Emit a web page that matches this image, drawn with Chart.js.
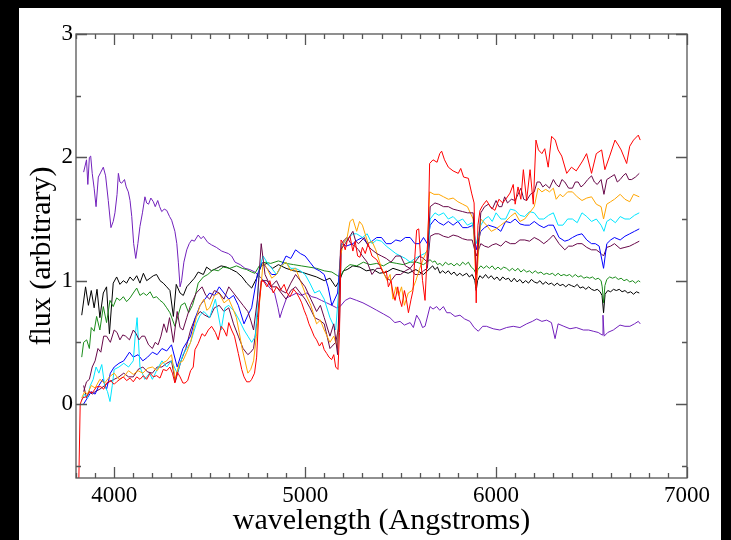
<!DOCTYPE html>
<html lang="en">
<head>
  <meta charset="UTF-8">
  <title>Spectra – flux vs wavelength</title>
  <script src="https://cdn.jsdelivr.net/npm/chart.js"></script>
  <style>
    * { margin:0; padding:0; box-sizing:border-box; }
    html,body { width:731px; height:540px; overflow:hidden; background:#000; }
    #sheet { position:absolute; left:19px; top:8px; width:702px; height:532px; background:#fff; }
    #sheet canvas { display:block; }
  </style>
</head>
<body>
  <div id="sheet"><canvas id="spec" width="702" height="532"></canvas></div>

  <script>
    // axis text
    const xTitle = 'wavelength (Angstroms)';
    const yTitle = 'flux (arbitrary)';
    const xTickVals = [4000, 5000, 6000, 7000];
    const yTickVals = [0, 1, 2, 3];

    // red spectrum
    const redWl = [
      3815, 3822, 3835, 3856, 3870, 3885, 3908, 3930, 3945, 3960,
      3980, 4000, 4013, 4030, 4048, 4065, 4083, 4100, 4118, 4135,
      4153, 4170, 4188, 4205, 4222, 4240, 4257, 4275, 4292, 4305,
      4318, 4330, 4345, 4360, 4371, 4385, 4400, 4414, 4423, 4440,
      4460, 4475, 4493, 4510, 4530, 4545, 4560, 4575, 4589, 4600,
      4615, 4630, 4650, 4668, 4680, 4694, 4710, 4720, 4735, 4746,
      4760, 4772, 4785, 4800, 4815, 4833, 4850, 4870, 4890, 4905,
      4921, 4940, 4955, 4970, 4982, 4995, 5008, 5020, 5034, 5047,
      5060, 5075, 5088, 5100, 5113, 5125, 5139, 5150, 5160, 5172,
      5180, 5188, 5200, 5210, 5220, 5235, 5250, 5262, 5275, 5287,
      5300, 5315, 5330, 5350, 5375, 5392, 5410, 5425, 5436, 5450,
      5460, 5471, 5485, 5495, 5506, 5520, 5530, 5541, 5555, 5565,
      5575, 5584, 5595, 5605, 5615, 5628, 5638, 5646, 5652, 5670,
      5691, 5705, 5715, 5730, 5750, 5775, 5802, 5815, 5830, 5855,
      5872, 5885, 5896, 5905, 5916, 5930, 5950, 5970, 5994, 6015,
      6035, 6055, 6073, 6090, 6100, 6115, 6130, 6143, 6160, 6178,
      6195, 6209, 6222, 6240, 6255, 6273, 6291, 6310, 6325, 6344,
      6370, 6395, 6420, 6453, 6474, 6500, 6525, 6553, 6570, 6595,
      6623, 6640, 6655, 6684, 6700, 6720, 6745, 6755
    ];
    const redFlux = [
      -0.6, 0.0, 0.05, 0.06, 0.10, 0.09, 0.14, 0.14, 0.12, 0.17,
      0.19, 0.16, 0.18, 0.20, 0.22, 0.19, 0.21, 0.18, 0.22, 0.20,
      0.23, 0.20, 0.25, 0.22, 0.23, 0.21, 0.28, 0.27, 0.30, 0.25,
      0.17, 0.26, 0.22, 0.17, 0.17, 0.19, 0.27, 0.30, 0.44, 0.49,
      0.57, 0.55, 0.60, 0.63, 0.58, 0.52, 0.63, 0.60, 0.55, 0.66,
      0.60, 0.55, 0.41, 0.28, 0.22, 0.18, 0.18, 0.20, 0.25, 0.38,
      0.82, 1.00, 0.99, 0.95, 1.00, 0.90, 0.95, 0.92, 0.97, 0.90,
      0.87, 0.93, 0.90, 0.86, 0.82, 0.76, 0.71, 0.65, 0.60, 0.55,
      0.52, 0.47, 0.50, 0.44, 0.41, 0.38, 0.36, 0.40, 0.30, 0.28,
      0.58, 1.33, 1.30, 1.25, 1.32, 1.36, 1.24, 1.32, 1.20, 1.19,
      1.27, 1.22, 1.30, 1.20, 1.17, 1.12, 1.06, 1.08, 0.95, 1.00,
      0.90, 0.84, 0.95, 0.85, 0.79, 0.92, 0.85, 0.74, 0.85, 0.92,
      1.20, 1.41, 1.42, 1.18, 1.00, 0.84, 1.18, 1.50, 1.95, 1.98,
      1.96, 2.03, 2.05, 1.98, 1.92, 1.89, 1.87, 1.91, 1.84, 1.83,
      1.71, 1.63, 0.82, 1.45, 1.57, 1.61, 1.65, 1.60, 1.57, 1.66,
      1.63, 1.67, 1.71, 1.78, 1.62, 1.76, 1.66, 1.90, 1.65, 1.90,
      1.62, 2.14, 2.06, 2.03, 2.07, 1.92, 2.17, 2.14, 2.06, 2.01,
      1.87, 1.92, 1.89, 1.97, 2.03, 1.87, 2.03, 2.06, 1.90, 2.01,
      2.14, 2.10, 2.06, 1.95, 2.09, 2.14, 2.18, 2.14
    ];

    // maroon spectrum (upper one at the red end)
    const maroonAWl = [
      3840, 3855, 3870, 3885, 3900, 3915, 3930, 3945, 3960, 3980,
      4000, 4015, 4030, 4045, 4060, 4080, 4100, 4115, 4130, 4145,
      4160, 4180, 4200, 4215, 4230, 4245, 4260, 4275, 4290, 4310,
      4330, 4345, 4360, 4380, 4400, 4430, 4460, 4480, 4500, 4525,
      4550, 4575, 4600, 4625, 4650, 4675, 4700, 4715, 4730, 4750,
      4770, 4790, 4820, 4850, 4875, 4900, 4925, 4950, 4975, 5000,
      5030, 5060, 5080, 5100, 5130, 5150, 5170, 5185, 5200, 5210,
      5230, 5250, 5265, 5280, 5310, 5330, 5350, 5375, 5400, 5425,
      5450, 5475, 5500, 5525, 5550, 5575, 5600, 5620, 5640, 5655,
      5680, 5700, 5725, 5750, 5775, 5800, 5825, 5850, 5880, 5896,
      5920, 5940, 5960, 5980, 6000, 6015, 6030, 6045, 6060, 6080,
      6100, 6115, 6130, 6145, 6160, 6180, 6200, 6215, 6230, 6245,
      6260, 6280, 6300, 6315, 6330, 6345, 6360, 6380, 6400, 6415,
      6430, 6445, 6460, 6480, 6500, 6515, 6530, 6550, 6565, 6580,
      6600, 6620, 6635, 6650, 6665, 6680, 6695, 6710, 6730, 6750
    ];
    const maroonAFlux = [
      0.10, 0.18, 0.20, 0.30, 0.35, 0.45, 0.42, 0.55, 0.55, 0.50,
      0.60, 0.58, 0.52, 0.56, 0.55, 0.52, 0.60, 0.57, 0.52, 0.55,
      0.55, 0.48, 0.45, 0.50, 0.48, 0.55, 0.65, 0.58, 0.70, 0.50,
      0.75, 0.62, 0.60, 0.70, 0.80, 0.90, 0.95, 0.88, 0.85, 0.92,
      0.90, 0.85, 0.95, 0.90, 0.85, 0.80, 0.75, 0.68, 0.60, 0.85,
      1.30, 1.05, 0.95, 1.00, 0.92, 0.90, 0.98, 1.05, 1.00, 0.95,
      0.85, 0.75, 0.80, 0.70, 0.55, 0.65, 0.40, 1.25, 1.28, 1.30,
      1.35, 1.40, 1.32, 1.30, 1.35, 1.28, 1.25, 1.22, 1.20, 1.18,
      1.15, 1.20, 1.20, 1.12, 1.10, 1.15, 1.20, 1.18, 1.15, 1.60,
      1.63, 1.62, 1.60, 1.60, 1.58, 1.57, 1.56, 1.55, 1.55, 1.05,
      1.55, 1.60, 1.62, 1.58, 1.65, 1.60, 1.60, 1.68, 1.63, 1.66,
      1.65, 1.70, 1.75, 1.66, 1.65, 1.70, 1.72, 1.80, 1.80, 1.76,
      1.78, 1.75, 1.82, 1.78, 1.76, 1.82, 1.80, 1.75, 1.75, 1.80,
      1.80, 1.76, 1.78, 1.82, 1.85, 1.80, 1.78, 1.82, 1.70, 1.82,
      1.84, 1.86, 1.80, 1.82, 1.85, 1.87, 1.82, 1.82, 1.84, 1.87
    ];

    // orange spectrum
    const orangeWl = [
      3830, 3845, 3860, 3880, 3900, 3925, 3950, 3975, 4000, 4025,
      4050, 4075, 4100, 4125, 4150, 4175, 4200, 4225, 4250, 4275,
      4300, 4320, 4340, 4360, 4380, 4400, 4415, 4430, 4450, 4470,
      4485, 4500, 4525, 4550, 4575, 4600, 4620, 4640, 4655, 4670,
      4685, 4700, 4715, 4730, 4745, 4760, 4780, 4800, 4825, 4850,
      4875, 4900, 4925, 4950, 4975, 5000, 5030, 5060, 5080, 5100,
      5130, 5150, 5170, 5185, 5200, 5220, 5235, 5250, 5270, 5285,
      5300, 5330, 5350, 5370, 5400, 5430, 5445, 5460, 5475, 5490,
      5505, 5520, 5540, 5560, 5580, 5600, 5620, 5640, 5652, 5675,
      5700, 5725, 5750, 5775, 5800, 5825, 5850, 5880, 5896, 5920,
      5950, 5975, 6000, 6025, 6050, 6075, 6100, 6125, 6150, 6175,
      6200, 6220, 6240, 6260, 6280, 6300, 6315, 6335, 6350, 6375,
      6400, 6425, 6450, 6475, 6500, 6525, 6550, 6563, 6580, 6600,
      6620, 6650, 6675, 6700, 6720, 6750
    ];
    const orangeFlux = [
      0.05, 0.10, 0.08, 0.15, 0.13, 0.20, 0.17, 0.22, 0.25, 0.20,
      0.22, 0.27, 0.24, 0.27, 0.25, 0.29, 0.30, 0.27, 0.33, 0.35,
      0.40, 0.20, 0.33, 0.35, 0.42, 0.50, 0.60, 0.70, 0.80, 0.85,
      0.76, 0.78, 0.88, 0.90, 0.82, 0.85, 0.78, 0.70, 0.58, 0.45,
      0.35, 0.25, 0.28, 0.35, 0.55, 0.80, 1.15, 1.10, 1.02, 1.05,
      1.12, 1.15, 1.08, 1.10, 1.00, 0.90, 0.80, 0.65, 0.68, 0.60,
      0.50, 0.55, 0.45, 1.20, 1.30, 1.35, 1.48, 1.50, 1.40, 1.48,
      1.45, 1.30, 1.32, 1.25, 1.10, 1.00, 1.05, 0.85, 0.95, 0.88,
      0.95, 0.80, 0.90, 0.92, 1.00, 1.10, 1.18, 1.25, 1.72, 1.70,
      1.70, 1.68, 1.66, 1.67, 1.64, 1.62, 1.60, 1.50, 0.95, 1.50,
      1.45, 1.40, 1.42, 1.45, 1.48, 1.52, 1.55, 1.48, 1.50, 1.55,
      1.60, 1.75, 1.72, 1.74, 1.72, 1.75, 1.66, 1.70, 1.68, 1.72,
      1.72, 1.68, 1.65, 1.67, 1.68, 1.62, 1.60, 1.50, 1.62, 1.64,
      1.66, 1.70, 1.66, 1.64, 1.70, 1.68
    ];

    // cyan spectrum
    const cyanWl = [
      3830, 3845, 3860, 3875, 3890, 3905, 3920, 3935, 3950, 3965,
      3978, 3990, 4000, 4025, 4050, 4075, 4100, 4110, 4120, 4135,
      4160, 4185, 4200, 4225, 4250, 4275, 4300, 4330, 4360, 4380,
      4400, 4430, 4450, 4470, 4500, 4530, 4560, 4580, 4600, 4630,
      4655, 4680, 4700, 4720, 4740, 4760, 4780, 4800, 4825, 4850,
      4875, 4900, 4925, 4950, 4975, 5000, 5025, 5050, 5075, 5100,
      5130, 5160, 5175, 5190, 5210, 5230, 5250, 5270, 5300, 5325,
      5350, 5375, 5400, 5425, 5450, 5475, 5500, 5525, 5550, 5575,
      5600, 5625, 5645, 5655, 5680, 5700, 5725, 5750, 5775, 5800,
      5825, 5850, 5875, 5896, 5920, 5940, 5960, 5980, 6000, 6025,
      6050, 6075, 6100, 6125, 6150, 6175, 6200, 6225, 6250, 6275,
      6300, 6325, 6350, 6375, 6400, 6425, 6450, 6475, 6500, 6525,
      6550, 6565, 6580, 6600, 6625, 6650, 6675, 6700, 6725, 6750
    ];
    const cyanFlux = [
      0.03, 0.08, 0.05, 0.15, 0.20, 0.30, 0.25, 0.32, 0.15, 0.10,
      0.02, 0.15, 0.28, 0.30, 0.33, 0.30, 0.35, 0.55, 0.70, 0.30,
      0.20, 0.25, 0.20, 0.28, 0.35, 0.30, 0.35, 0.25, 0.40, 0.45,
      0.50, 0.65, 0.72, 0.75, 0.70, 0.85, 0.60, 0.78, 0.80, 0.75,
      0.68, 0.60, 0.55, 0.50, 0.55, 1.10, 1.20, 1.15, 1.10, 1.05,
      1.12, 1.15, 1.10, 1.10, 1.08, 1.05, 0.98, 0.90, 0.92, 0.85,
      0.70, 0.60, 0.90, 1.30, 1.32, 1.35, 1.38, 1.38, 1.35, 1.38,
      1.30, 1.33, 1.32, 1.28, 1.25, 1.22, 1.20, 1.18, 1.15, 1.18,
      1.20, 1.22, 1.25, 1.50, 1.55, 1.53, 1.55, 1.50, 1.52, 1.48,
      1.50, 1.45, 1.47, 1.30, 1.45, 1.50, 1.52, 1.48, 1.55, 1.50,
      1.50, 1.58, 1.57, 1.53, 1.52, 1.56, 1.55, 1.50, 1.50, 1.53,
      1.55, 1.45, 1.45, 1.50, 1.50, 1.47, 1.55, 1.52, 1.48, 1.50,
      1.45, 1.40, 1.48, 1.50, 1.47, 1.52, 1.50, 1.50, 1.53, 1.55
    ];

    // blue spectrum
    const blueWl = [
      3840, 3860, 3880, 3900, 3920, 3940, 3960, 3980, 4000, 4025,
      4050, 4080, 4100, 4125, 4150, 4175, 4200, 4225, 4250, 4275,
      4300, 4330, 4360, 4380, 4400, 4425, 4450, 4475, 4500, 4525,
      4550, 4575, 4600, 4625, 4650, 4680, 4700, 4720, 4750, 4775,
      4800, 4825, 4850, 4875, 4900, 4925, 4950, 4975, 5000, 5025,
      5050, 5075, 5100, 5120, 5140, 5170, 5190, 5215, 5250, 5275,
      5300, 5325, 5350, 5375, 5400, 5425, 5450, 5475, 5500, 5525,
      5550, 5575, 5600, 5620, 5640, 5655, 5680, 5700, 5725, 5750,
      5775, 5800, 5825, 5850, 5880, 5896, 5920, 5940, 5960, 6000,
      6025, 6050, 6075, 6100, 6125, 6150, 6175, 6200, 6225, 6250,
      6275, 6300, 6330, 6360, 6380, 6400, 6425, 6450, 6475, 6500,
      6520, 6540, 6563, 6580, 6600, 6620, 6650, 6675, 6700, 6725,
      6750
    ];
    const blueFlux = [
      0.00, 0.05, 0.10, 0.08, 0.15, 0.20, 0.12, 0.25, 0.30, 0.33,
      0.35, 0.42, 0.38, 0.40, 0.35, 0.38, 0.42, 0.40, 0.45, 0.43,
      0.48, 0.30, 0.45, 0.50, 0.55, 0.70, 0.80, 0.85, 0.90, 0.88,
      0.95, 0.90, 0.85, 0.88, 0.80, 0.65, 0.72, 0.78, 1.05, 1.15,
      1.10, 1.05, 1.05, 1.12, 1.20, 1.18, 1.25, 1.22, 1.20, 1.15,
      1.10, 1.08, 1.05, 0.95, 0.80, 0.90, 1.30, 1.28, 1.30, 1.33,
      1.35, 1.30, 1.32, 1.35, 1.35, 1.30, 1.30, 1.33, 1.32, 1.35,
      1.35, 1.30, 1.30, 1.35, 1.30, 1.45, 1.50, 1.47, 1.45, 1.48,
      1.45, 1.48, 1.43, 1.43, 1.45, 1.25, 1.40, 1.43, 1.45, 1.43,
      1.40, 1.48, 1.47, 1.50, 1.46, 1.45, 1.45, 1.48, 1.45, 1.43,
      1.45, 1.45, 1.35, 1.32, 1.33, 1.35, 1.37, 1.38, 1.33, 1.30,
      1.30, 1.28, 1.10, 1.30, 1.33, 1.35, 1.33, 1.36, 1.38, 1.40,
      1.42
    ];

    // maroon spectrum (lower one at the red end)
    const maroonBWl = [
      3840, 3855, 3870, 3885, 3900, 3925, 3950, 3975, 4000, 4025,
      4050, 4075, 4100, 4125, 4150, 4175, 4200, 4225, 4250, 4275,
      4300, 4320, 4350, 4375, 4400, 4425, 4450, 4475, 4500, 4525,
      4550, 4575, 4600, 4625, 4650, 4675, 4700, 4715, 4730, 4750,
      4770, 4800, 4825, 4850, 4875, 4900, 4925, 4950, 4975, 5000,
      5025, 5050, 5075, 5100, 5130, 5160, 5180, 5190, 5205, 5220,
      5240, 5260, 5280, 5300, 5325, 5350, 5375, 5400, 5425, 5450,
      5475, 5500, 5525, 5550, 5575, 5600, 5620, 5640, 5655, 5680,
      5700, 5725, 5750, 5775, 5800, 5825, 5850, 5875, 5896, 5920,
      5940, 5960, 5980, 6000, 6025, 6050, 6075, 6100, 6125, 6150,
      6175, 6200, 6225, 6250, 6275, 6300, 6330, 6360, 6380, 6400,
      6425, 6450, 6475, 6500, 6525, 6550, 6563, 6580, 6600, 6620,
      6650, 6675, 6700, 6725, 6750
    ];
    const maroonBFlux = [
      0.15, 0.05, 0.10, 0.08, 0.10, 0.12, 0.15, 0.18, 0.20, 0.22,
      0.25, 0.22, 0.22, 0.28, 0.30, 0.26, 0.25, 0.30, 0.30, 0.33,
      0.35, 0.18, 0.35, 0.45, 0.60, 0.70, 0.75, 0.72, 0.70, 0.78,
      0.80, 0.75, 0.78, 0.65, 0.55, 0.45, 0.40, 0.42, 0.45, 0.70,
      1.00, 1.00, 0.95, 0.95, 0.90, 0.85, 0.92, 0.95, 0.90, 0.85,
      0.78, 0.70, 0.68, 0.65, 0.45, 0.50, 0.65, 1.30, 1.33, 1.35,
      1.30, 1.28, 1.25, 1.20, 1.15, 1.05, 1.10, 1.10, 1.02, 1.00,
      1.05, 1.05, 1.08, 1.10, 1.05, 1.05, 1.08, 1.10, 1.36, 1.38,
      1.38, 1.36, 1.35, 1.37, 1.36, 1.34, 1.33, 1.33, 1.20, 1.30,
      1.28, 1.27, 1.29, 1.30, 1.28, 1.32, 1.30, 1.30, 1.33, 1.33,
      1.32, 1.35, 1.33, 1.30, 1.33, 1.37, 1.30, 1.25, 1.28, 1.28,
      1.30, 1.30, 1.27, 1.25, 1.25, 1.22, 1.20, 1.27, 1.28, 1.30,
      1.26, 1.27, 1.28, 1.30, 1.32
    ];

    // green spectrum
    const greenWl = [
      3830, 3840, 3856, 3870, 3880, 3895, 3908, 3925, 3943, 3960,
      3978, 3995, 4013, 4030, 4048, 4065, 4083, 4100, 4118, 4135,
      4153, 4170, 4188, 4205, 4222, 4240, 4257, 4275, 4292, 4318,
      4335, 4350, 4370, 4390, 4410, 4423, 4440, 4467, 4490, 4519,
      4545, 4571, 4606, 4641, 4670, 4694, 4720, 4737, 4760, 4790,
      4820, 4860, 4900, 4940, 4980, 5020, 5060, 5100, 5140, 5170,
      5183, 5210, 5235, 5270, 5305, 5340, 5375, 5410, 5444, 5480,
      5514, 5550, 5584, 5620, 5654, 5668, 5680, 5693, 5706, 5720,
      5735, 5750, 5765, 5780, 5795, 5810, 5825, 5840, 5855, 5870,
      5885, 5896, 5905, 5920, 5935, 5950, 5965, 5980, 5995, 6010,
      6025, 6040, 6055, 6070, 6085, 6100, 6115, 6130, 6145, 6160,
      6175, 6190, 6205, 6220, 6235, 6250, 6265, 6280, 6295, 6310,
      6325, 6340, 6355, 6370, 6385, 6400, 6415, 6430, 6445, 6460,
      6475, 6490, 6505, 6520, 6535, 6550, 6556, 6563, 6570, 6580,
      6595, 6610, 6625, 6640, 6655, 6670, 6685, 6700, 6715, 6730,
      6745, 6755
    ];
    const greenFlux = [
      0.38, 0.50, 0.52, 0.45, 0.62, 0.59, 0.71, 0.60, 0.79, 0.66,
      0.84, 0.79, 0.86, 0.84, 0.87, 0.83, 0.86, 0.90, 0.94, 0.88,
      0.90, 0.88, 0.91, 0.86, 0.87, 0.84, 0.82, 0.78, 0.74, 0.63,
      0.72, 0.80, 0.82, 0.74, 0.80, 0.87, 0.98, 1.03, 1.05, 1.09,
      1.08, 1.11, 1.10, 1.12, 1.10, 1.09, 1.07, 1.06, 1.12, 1.15,
      1.14, 1.16, 1.14, 1.13, 1.12, 1.11, 1.10, 1.08, 1.07, 1.04,
      1.03, 1.10, 1.13, 1.12, 1.15, 1.13, 1.14, 1.12, 1.15, 1.14,
      1.13, 1.15, 1.15, 1.13, 1.17, 1.15, 1.16, 1.13, 1.14, 1.12,
      1.15, 1.13, 1.14, 1.12, 1.14, 1.12, 1.15, 1.13, 1.15, 1.11,
      1.09, 1.05, 1.09, 1.12, 1.10, 1.12, 1.10, 1.12, 1.09, 1.11,
      1.09, 1.11, 1.10, 1.08, 1.10, 1.08, 1.10, 1.07, 1.09, 1.07,
      1.08, 1.06, 1.08, 1.06, 1.07, 1.05, 1.06, 1.05, 1.06, 1.04,
      1.06, 1.04, 1.05, 1.04, 1.05, 1.03, 1.05, 1.03, 1.04, 1.02,
      1.03, 1.02, 1.03, 1.01, 1.02, 1.00, 0.95, 0.82, 0.96, 1.01,
      1.03, 1.02, 1.03, 1.01, 1.02, 1.00, 1.01, 0.99, 1.00, 0.98,
      1.00, 0.99
    ];

    // black spectrum
    const blackWl = [
      3830, 3850, 3865, 3880, 3895, 3910, 3925, 3943, 3960, 3975,
      3995, 4013, 4030, 4048, 4065, 4083, 4100, 4118, 4135, 4153,
      4170, 4188, 4205, 4222, 4240, 4257, 4275, 4292, 4310, 4325,
      4345, 4362, 4380, 4397, 4420, 4440, 4467, 4484, 4510, 4536,
      4560, 4589, 4615, 4641, 4670, 4694, 4720, 4746, 4770, 4800,
      4830, 4860, 4900, 4940, 4980, 5020, 5060, 5100, 5130, 5160,
      5180, 5200, 5220, 5250, 5287, 5320, 5357, 5390, 5427, 5460,
      5500, 5540, 5580, 5620, 5654, 5668, 5680, 5693, 5706, 5720,
      5735, 5750, 5765, 5780, 5795, 5810, 5825, 5846, 5860, 5875,
      5889, 5896, 5903, 5915, 5930, 5945, 5960, 5975, 5990, 6005,
      6020, 6035, 6050, 6065, 6080, 6095, 6110, 6125, 6140, 6155,
      6170, 6185, 6200, 6215, 6230, 6245, 6260, 6275, 6290, 6305,
      6320, 6335, 6350, 6365, 6380, 6395, 6410, 6425, 6440, 6455,
      6470, 6485, 6500, 6515, 6530, 6545, 6555, 6563, 6571, 6585,
      6600, 6615, 6630, 6645, 6660, 6675, 6690, 6705, 6720, 6735,
      6750
    ];
    const blackFlux = [
      0.72, 0.95, 0.80, 0.92, 0.78, 0.93, 0.70, 0.90, 0.95, 0.57,
      0.98, 1.03, 0.97, 1.00, 0.98, 1.03, 1.00, 1.04, 0.98, 1.06,
      1.00, 1.02, 1.04, 1.05, 1.00, 0.98, 0.95, 0.92, 0.71, 0.97,
      0.90, 0.88, 0.95, 0.98, 1.02, 1.07, 1.05, 1.11, 1.08, 1.10,
      1.12, 1.11, 1.09, 1.07, 1.03, 0.98, 0.94, 1.02, 1.12, 1.14,
      1.10, 1.13, 1.10, 1.08, 1.07, 1.05, 1.03, 1.00, 1.02, 0.95,
      1.00, 1.08, 1.09, 1.12, 1.11, 1.08, 1.09, 1.06, 1.07, 1.10,
      1.08, 1.06, 1.09, 1.05, 1.10, 1.12, 1.09, 1.11, 1.06, 1.08,
      1.06, 1.08, 1.05, 1.07, 1.04, 1.06, 1.04, 1.06, 1.03, 1.05,
      1.00, 0.92, 1.00, 1.04, 1.02, 1.05, 1.02, 1.04, 1.01, 1.03,
      1.00, 1.03, 1.01, 1.02, 0.99, 1.02, 0.99, 1.01, 0.98, 1.00,
      0.98, 1.01, 0.99, 0.98, 1.00, 0.97, 0.99, 0.97, 0.98, 0.96,
      0.98, 0.96, 0.97, 0.95, 0.97, 0.96, 0.95, 0.97, 0.94, 0.95,
      0.93, 0.95, 0.93, 0.92, 0.93, 0.91, 0.88, 0.74, 0.89, 0.92,
      0.91, 0.93, 0.92, 0.93, 0.91, 0.92, 0.90, 0.91, 0.89, 0.91,
      0.90
    ];

    // indigo spectrum (the one that is bright in the blue)
    const indigoWl = [
      3840, 3855, 3862, 3870, 3877, 3885, 3895, 3905, 3917, 3930,
      3943, 3955, 3969, 3983, 3995, 4004, 4015, 4022, 4030, 4039,
      4054, 4063, 4074, 4083, 4092, 4102, 4113, 4124, 4135, 4148,
      4161, 4170, 4180, 4192, 4205, 4215, 4228, 4238, 4249, 4262,
      4275, 4290, 4301, 4318, 4328, 4336, 4345, 4353, 4365, 4380,
      4393, 4406, 4420, 4440, 4455, 4467, 4490, 4510, 4535, 4563,
      4580, 4598, 4615, 4633, 4660, 4685, 4710, 4737, 4764, 4790,
      4816, 4840, 4858, 4868, 4880, 4903, 4930, 4956, 4980, 5008,
      5035, 5060, 5085, 5113, 5140, 5165, 5183, 5210, 5235, 5270,
      5303, 5340, 5375, 5410, 5444, 5470, 5497, 5520, 5550, 5567,
      5584, 5600, 5615, 5628, 5654, 5670, 5689, 5705, 5724, 5742,
      5760, 5785, 5811, 5835, 5863, 5885, 5907, 5930, 5950, 5985,
      6020, 6055, 6090, 6125, 6160, 6190, 6213, 6240, 6265, 6290,
      6309, 6325, 6355, 6387, 6420, 6457, 6485, 6509, 6535, 6555,
      6560, 6566, 6585, 6614, 6649, 6675, 6701, 6725, 6745, 6755
    ];
    const indigoFlux = [
      1.88, 1.98, 1.78, 2.00, 2.01, 1.87, 1.75, 1.60, 1.84, 1.88,
      1.92, 1.85, 1.65, 1.43, 1.48, 1.55, 1.70, 1.87, 1.80, 1.79,
      1.82, 1.76, 1.72, 1.65, 1.52, 1.30, 1.18, 1.30, 1.44, 1.55,
      1.68, 1.63, 1.62, 1.67, 1.64, 1.60, 1.65, 1.60, 1.56, 1.58,
      1.57, 1.52, 1.49, 1.40, 1.30, 1.15, 0.95, 1.00, 1.15, 1.25,
      1.30, 1.33, 1.32, 1.37, 1.34, 1.36, 1.31, 1.29, 1.27, 1.24,
      1.23, 1.22, 1.20, 1.15, 1.13, 1.10, 1.09, 1.07, 1.03, 0.99,
      0.94, 0.90, 0.78, 0.70, 0.76, 0.86, 0.88, 0.90, 0.88, 0.90,
      0.87, 0.86, 0.84, 0.82, 0.80, 0.78, 0.79, 0.84, 0.86, 0.84,
      0.82, 0.79, 0.76, 0.73, 0.70, 0.66, 0.67, 0.64, 0.66, 0.62,
      0.72, 0.68, 0.62, 0.63, 0.79, 0.77, 0.79, 0.76, 0.79, 0.74,
      0.74, 0.71, 0.72, 0.69, 0.67, 0.62, 0.59, 0.63, 0.63, 0.61,
      0.60, 0.62, 0.63, 0.62, 0.65, 0.67, 0.69, 0.67, 0.68, 0.66,
      0.53, 0.65, 0.63, 0.61, 0.62, 0.60, 0.60, 0.59, 0.58, 0.56,
      0.72, 0.55, 0.58, 0.60, 0.64, 0.63, 0.63, 0.65, 0.67, 0.65
    ];

    // first in the list ends up drawn on top
    const series = [
      { wl: redWl,     flux: redFlux,     color: '#ff0000' },
      { wl: maroonAWl, flux: maroonAFlux, color: '#670748' },
      { wl: orangeWl,  flux: orangeFlux,  color: '#ffa500' },
      { wl: cyanWl,    flux: cyanFlux,    color: '#00e5ff' },
      { wl: blueWl,    flux: blueFlux,    color: '#0000ff' },
      { wl: maroonBWl, flux: maroonBFlux, color: '#670748' },
      { wl: greenWl,   flux: greenFlux,   color: '#1a8c1a' },
      { wl: blackWl,   flux: blackFlux,   color: '#000000' },
      { wl: indigoWl,  flux: indigoFlux,  color: '#7221bc' }
    ];

    // frame with inward ticks on all four sides
    const frameTicks = {
      id: 'frameTicks',
      afterDraw(chart) {
        const { ctx, chartArea: a, scales: { x, y } } = chart;
        ctx.save();
        ctx.strokeStyle = '#555';
        ctx.lineWidth = 1.3;
        ctx.strokeRect(a.left, a.top, a.right - a.left, a.bottom - a.top);
        ctx.beginPath();
        for (let v = 3800; v <= 7000; v += 100) {
          const px = Math.round(x.getPixelForValue(v)) + 0.5;
          const len = v % 1000 === 0 ? 11 : 5;
          ctx.moveTo(px, a.bottom); ctx.lineTo(px, a.bottom - len);
          ctx.moveTo(px, a.top);    ctx.lineTo(px, a.top + len);
        }
        for (let k = -1; k <= 6; k++) {
          const v = k * 0.5;
          const py = Math.round(y.getPixelForValue(v)) + 0.5;
          const len = k % 2 === 0 ? 11 : 5;
          ctx.moveTo(a.left, py);  ctx.lineTo(a.left + len, py);
          ctx.moveTo(a.right, py); ctx.lineTo(a.right - len, py);
        }
        ctx.stroke();
        ctx.restore();
      }
    };

    const serif = 'Liberation Serif';

    new Chart(document.getElementById('spec'), {
      type: 'line',
      data: {
        datasets: series.map(s => ({
          data: s.wl.map((w, i) => ({ x: w, y: s.flux[i] })),
          borderColor: s.color,
          borderWidth: 1,
          pointRadius: 0,
          fill: false,
          tension: 0
        }))
      },
      options: {
        responsive: false,
        animation: false,
        devicePixelRatio: 1,
        layout: { padding: { top: 26, right: 34, left: 0, bottom: 0 } },
        plugins: { legend: { display: false }, tooltip: { enabled: false } },
        scales: {
          x: {
            type: 'linear', min: 3800, max: 7000,
            grid: { display: false, drawTicks: false },
            border: { display: false },
            afterBuildTicks: s => { s.ticks = xTickVals.map(v => ({ value: v })); },
            afterFit: s => { s.height = 62; },
            ticks: { color: '#000', font: { family: serif, size: 23 }, padding: 4, maxRotation: 0, autoSkip: false,
                     callback: v => String(v) },
            title: { display: true, text: xTitle, color: '#000', font: { family: serif, size: 30 }, padding: { top: 0, bottom: 1 } }
          },
          y: {
            type: 'linear', min: -0.6, max: 3,
            grid: { display: false, drawTicks: false },
            border: { display: false },
            afterBuildTicks: s => { s.ticks = yTickVals.map(v => ({ value: v })); },
            afterFit: s => { s.width = 57; },
            ticks: { color: '#000', font: { family: serif, size: 23 }, padding: 3, autoSkip: false,
                     callback: v => String(v) },
            title: { display: true, text: yTitle, color: '#000', font: { family: serif, size: 30 }, padding: { top: 5, bottom: 0 } }
          }
        }
      },
      plugins: [frameTicks]
    });
  </script>
</body>
</html>
